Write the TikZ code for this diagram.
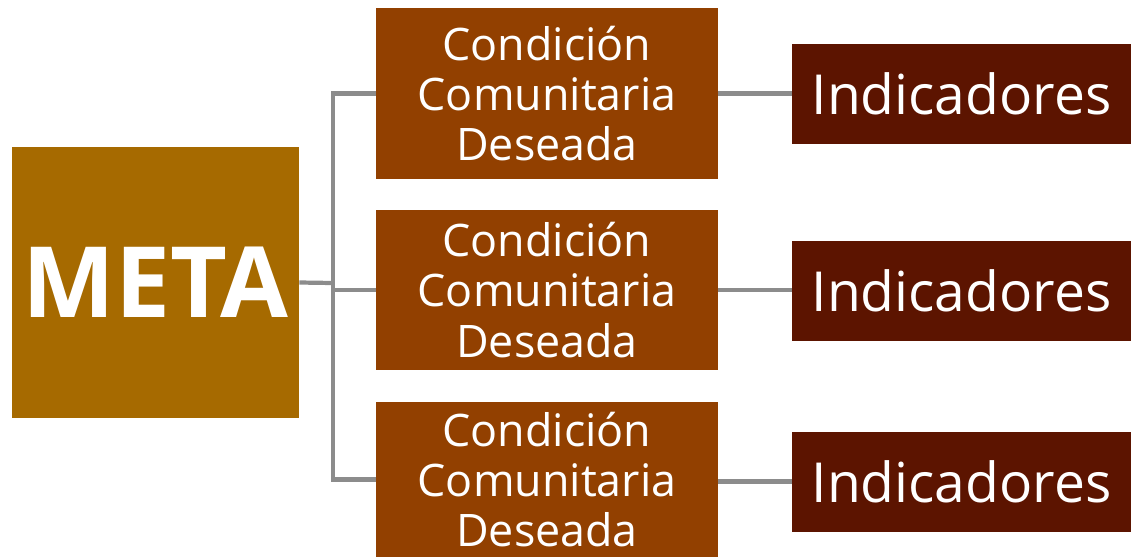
\documentclass[tikz,border=0pt]{standalone}
\usepackage{fontspec}
\setmainfont{Open Sans}
\definecolor{metacolor}{RGB}{166,106,0}
\definecolor{condcolor}{RGB}{146,64,0}
\definecolor{indcolor}{RGB}{92,20,0}
\definecolor{linkgray}{RGB}{140,140,140}
\tikzset{
  metabox/.style={fill=metacolor, text=white, font=\fontsize{56}{64}\selectfont\bfseries,
    minimum width=5.74cm, minimum height=5.42cm, inner sep=0pt},
  condbox/.style={fill=condcolor, text=white, font=\fontsize{25.5}{28.5}\selectfont,
    align=center, minimum width=6.84cm, inner sep=0pt},
  indbox/.style={fill=indcolor, text=white, font=\fontsize{31.4}{36}\selectfont,
    minimum width=6.78cm, minimum height=2cm, inner sep=0pt},
  link/.style={draw=linkgray, line width=2.4pt}
}

\begin{document}
\begin{tikzpicture}[x=0.02cm, y=-0.02cm]
    \useasboundingbox (0,0) rectangle (1131,558);
    % goal
    \node[metabox] (meta) at (155.5,282.5) {META};
    % desired conditions
    \node[condbox, minimum height=3.42cm] (cond1) at (547,93.5) {Condición\\Comunitaria\\Deseada};
    \node[condbox, minimum height=3.2cm] (cond2) at (547,290) {Condición\\Comunitaria\\Deseada};
    \node[condbox, minimum height=3.1cm] (cond3) at (547,479.5) {Condición\\Comunitaria\\Deseada};
    % indicators
    \node[indbox] (ind1) at (961.5,94) {Indicadores};
    \node[indbox] (ind2) at (961.5,291) {Indicadores};
    \node[indbox] (ind3) at (961.5,481.5) {Indicadores};
    % connectors
    \coordinate (fork) at (333,283);
    \draw[link] (meta.east) -- (fork);
    \draw[link] (cond1.west) -| (fork) |- (cond3.west);
    \draw[link] (fork |- cond2.west) -- (cond2.west);
    \draw[link] (cond1.east) -- (cond1.east -| ind1.west);
    \draw[link] (cond2.east) -- (cond2.east -| ind2.west);
    \draw[link] (ind3.west -| cond3.east) -- (ind3.west);
  \end{tikzpicture}
\end{document}
